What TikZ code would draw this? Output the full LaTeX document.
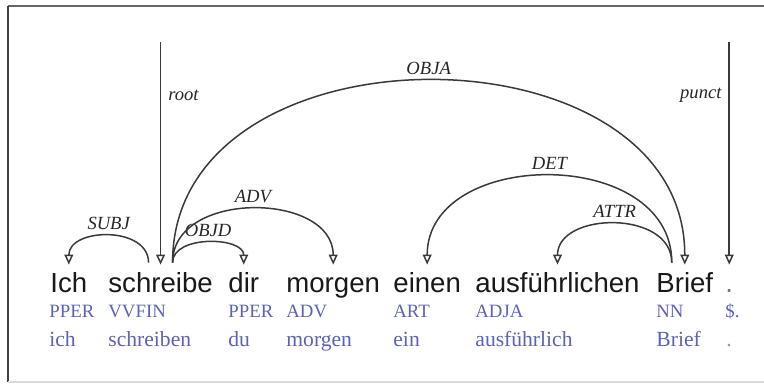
\documentclass[tikz,border=0pt]{standalone}
\usepackage{fontspec}
\setmainfont{Liberation Serif}
\newfontfamily\wordfont{Liberation Sans}
\usetikzlibrary{arrows.meta,positioning}
\definecolor{tagblue}{RGB}{92,98,186}
\definecolor{arcgray}{RGB}{58,58,58}

\begin{document}
\begin{tikzpicture}[x=0.5pt, y=-0.5pt,
    word/.style={anchor=base west, inner sep=0pt, text height=10pt, text depth=3pt, text=black!90, font=\wordfont\fontsize{13.8}{16}\selectfont},
    tag/.style={anchor=base west, inner sep=0pt, text=tagblue, font=\fontsize{9.4}{11}\selectfont},
    lemma/.style={tag, font=\fontsize{10.8}{12}\selectfont},
    dep/.style={arcgray, line width=0.75pt, -{Triangle[open, length=5pt, width=4.4pt]}},
    rel/.style={anchor=base, yshift=3pt, inner sep=0pt, text=black!85, font=\itshape\fontsize{9.3}{11}\selectfont},
    side/.style={inner sep=3.5pt, text=black!85, font=\itshape\fontsize{9.3}{11}\selectfont}
]
\useasboundingbox (0,0) rectangle (764,385);

% frame
\draw[black!60, line width=0.8pt] (764,6) -- (8,6);
\draw[black!75, line width=1pt] (8,6) -- (8,382);
\draw[black!15, line width=0.8pt] (8,382) -- (764,382);

% words
\node[word] (ich) at (50,292) {Ich};
\node[word] (schreibe) at (108,292) {schreibe};
\node[word] (dir) at (228,292) {dir};
\node[word] (morgen) at (286,292) {morgen};
\node[word] (einen) at (393,292) {einen};
\node[word] (ausf) at (475,292) {ausführlichen};
\node[word] (brief) at (656,292) {Brief};
\node[word, text=black!55] (dot) at (725,292) {.};

% POS tags
\node[tag] (t-ich) at (49,317) {PPER};
\node[tag] (t-schreibe) at (108,317) {VVFIN};
\node[tag] (t-dir) at (228,317) {PPER};
\node[tag] (t-morgen) at (286,317) {ADV};
\node[tag] (t-einen) at (393,317) {ART};
\node[tag] (t-ausf) at (475,317) {ADJA};
\node[tag] (t-brief) at (656,317) {NN};
\node[tag] (t-dot) at (725,317) {\$.};

% lemmas
\node[lemma] (l-ich) at (49,346) {ich};
\node[lemma] (l-schreibe) at (108,346) {schreiben};
\node[lemma] (l-dir) at (228,346) {du};
\node[lemma] (l-morgen) at (286,346) {morgen};
\node[lemma] (l-einen) at (393,346) {ein};
\node[lemma] (l-ausf) at (475,346) {ausführlich};
\node[lemma] (l-brief) at (656,346) {Brief};
\node[lemma, text=black!40] (l-dot) at (726,346) {.};

% arc end points
\coordinate (ich-in) at ([yshift=3.5pt]ich.north);
\coordinate (schreibe-in) at ([yshift=3.5pt]schreibe.north);
\coordinate (schreibe-l) at ([xshift=-6pt, yshift=4.5pt]schreibe.north);
\coordinate (schreibe-r) at ([xshift=6pt, yshift=4.5pt]schreibe.north);
\coordinate (dir-in) at ([yshift=3.5pt]dir.north);
\coordinate (morgen-in) at ([yshift=3.5pt]morgen.north);
\coordinate (einen-in) at ([yshift=3.5pt]einen.north);
\coordinate (ausf-in) at ([yshift=3.5pt]ausf.north);
\coordinate (brief-in) at ([yshift=3.5pt]brief.north);
\coordinate (brief-l) at ([xshift=-6.5pt, yshift=4.5pt]brief.north);
\coordinate (dot-in) at ([yshift=3.5pt]dot.north);
\coordinate (root-top) at (schreibe-in |- 0,42);
\coordinate (punct-top) at (dot-in |- 0,42);

% dependencies
\draw[dep] (root-top) -- node[side, right, pos=0.24] {root} (schreibe-in);
\draw[dep] (punct-top) -- node[side, left, pos=0.24] {punct} (dot-in);
\draw[dep] (schreibe-l) .. controls +(0,-37) and +(0,-37) .. (ich-in) node[rel, midway] {SUBJ};
\draw[dep] (schreibe-r) .. controls +(0,-28) and +(0,-28) .. (dir-in) node[rel, midway] {OBJD};
\draw[dep] (schreibe-r) .. controls +(0,-73) and +(0,-73) .. (morgen-in) node[rel, midway] {ADV};
\draw[dep] (schreibe-r) .. controls +(0,-244) and +(0,-244) .. (brief-in) node[rel, midway] {OBJA};
\draw[dep] (brief-l) .. controls +(0,-117) and +(0,-117) .. (einen-in) node[rel, midway] {DET};
\draw[dep] (brief-l) .. controls +(0,-53) and +(0,-53) .. (ausf-in) node[rel, midway] {ATTR};

\end{tikzpicture}
\end{document}
